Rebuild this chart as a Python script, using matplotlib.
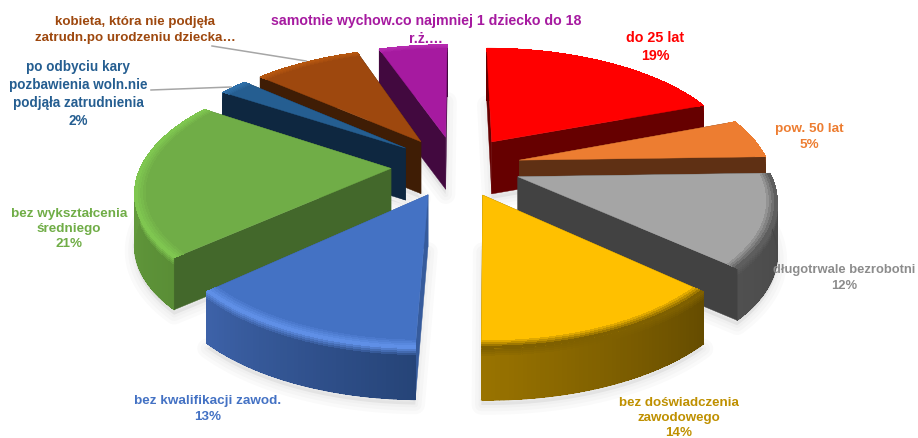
import numpy as np
import matplotlib
matplotlib.use('Agg')
import matplotlib.pyplot as plt
from matplotlib.collections import PolyCollection
from matplotlib.colors import to_rgb

plt.rcParams['font.family'] = ['Liberation Sans', 'DejaVu Sans']

# Data, clockwise from 12 o'clock. Shares, the labels are rounded
# (last two labels are cut off in the source, so those shares are only estimates)
labels = ['do 25 lat\n19%', 'pow. 50 lat\n5%', 'długotrwale bezrobotni\n12%',
          'bez doświadczenia\nzawodowego\n14%', 'bez kwalifikacji zawod.\n13%',
          'bez wykształcenia\nśredniego\n21%',
          'po odbyciu kary\npozbawienia woln.nie\npodjąła zatrudnienia\n2%',
          'kobieta, która nie podjęła\nzatrudn.po urodzeniu dziecka…',
          'samotnie wychow.co najmniej 1 dziecko do 18\nr.ż.…']
values = [19.3, 5.3, 12.3, 13.6, 12.9, 21.1, 2.2, 8.3, 5.3]

top_colors = ['#FF0000', '#ED7D31', '#A5A5A5', '#FFC000', '#4472C4',
              '#70AD47', '#255E91', '#9E480E', '#A61AA0']
wall_colors = ['#660000', '#5F3014', '#424242', '#7F6000', '#365B9C',
               '#43682B', '#0E2740', '#3F1D05', '#42093F']
# outer wall gradient, first colour at the start of the slice
arc_colors = [('#660000', '#660000'), ('#5F3014', '#5F3014'), ('#464646', '#505050'),
              ('#654C00', '#997300'), ('#264478', '#3D62A8'), ('#5A8E36', '#6AA542'),
              ('#0E2740', '#0E2740'), ('#3F1D05', '#3F1D05'), ('#42093F', '#42093F')]
rim_colors = ['#FF0000', '#ED7D31', '#5E5E5E', '#7F6000', '#5F8FE6',
              '#7FC650', '#2F6FA8', '#B5560F', '#B52AAF']
text_colors = ['#FF0000', '#ED7D31', '#8C8C8C', '#BF9000', '#4472C4',
               '#70AD47', '#255E91', '#9E480E', '#A61AA0']
label_pos = [(655, 47), (809, 137), (844, 278), (679, 418), (208, 409),
             (69, 229), (78, 94), (135, 30), (426, 30)]
label_size = [10.3, 9.7, 9.4, 9.65, 9.7, 9.7, 9.75, 9.65, 10.2]

# projection of the pie plane to the picture
CX, CY = 456, 166
BX, AY, PERSP = 250, 116.7, 0.166
EXPLODE = 0.26
DEPTH = 52


def project(u, v):
    s = 1 / (1 + PERSP * np.asarray(v))
    return CX + BX * np.asarray(u) * s, CY - AY * np.asarray(v) * s


def lerp(c1, c2, t):
    return np.array(to_rgb(c1)) * (1 - t) + np.array(to_rgb(c2)) * t


fig = plt.figure(figsize=(9.18, 4.38), dpi=100)
ax = fig.add_axes([0, 0, 1, 1])
ax.set_xlim(0, 918)
ax.set_ylim(438, 0)
ax.axis('off')

edges = np.concatenate([[0], np.cumsum(values)]) / np.sum(values) * 2 * np.pi

slices = []
for i in range(len(values)):
    mid = (edges[i] + edges[i + 1]) / 2
    au, av = EXPLODE * np.sin(mid), EXPLODE * np.cos(mid)
    ang = np.linspace(edges[i], edges[i + 1], 60)
    slices.append((i, au, av, ang))

# soft shadow under everything
for i, au, av, ang in slices:
    x, y = project(au + np.sin(ang), av + np.cos(ang))
    ax_, ay_ = project(au, av)
    px = np.concatenate([[ax_], x])
    py = np.concatenate([[ay_], y]) + DEPTH + 5
    for lw in (14, 9, 4):
        ax.fill(px, py, facecolor='none', edgecolor='k', alpha=0.02, lw=lw,
                joinstyle='round', zorder=1)
    ax.fill(px, py, color='k', alpha=0.05, lw=0, zorder=1)

# far slices first, so the near ones cover their walls
order = sorted(slices, key=lambda s: project(s[1], s[2])[1])
z = 2
for i, au, av, ang in order:
    x, y = project(au + np.sin(ang), av + np.cos(ang))
    x0, y0 = project(au, av)

    walls = []
    for xe, ye in ((x[0], y[0]), (x[-1], y[-1])):
        poly = [(x0, y0), (xe, ye), (xe, ye + DEPTH), (x0, y0 + DEPTH)]
        walls.append(((y0 + ye) / 2, 'radial', poly))
    walls.append((y.mean(), 'arc', None))
    walls.sort(key=lambda w: w[0])

    for _, kind, poly in walls:
        if kind == 'radial':
            ax.fill(*zip(*poly), color=wall_colors[i], lw=0.3, zorder=z)
        else:
            polys, cols = [], []
            bands = [0, 2, 4, 6, 8, DEPTH]
            for k in range(len(x) - 1):
                wall_c = lerp(arc_colors[i][0], arc_colors[i][1], k / (len(x) - 2))
                for b in range(len(bands) - 1):
                    z1, z2 = bands[b], bands[b + 1]
                    polys.append([(x[k], y[k] + z1), (x[k + 1], y[k + 1] + z1),
                                  (x[k + 1], y[k + 1] + z2), (x[k], y[k] + z2)])
                    cols.append(lerp(rim_colors[i], wall_c, min(z1 / 8, 1)))
            # no antialiasing between the quads, it gives stripes
            ax.add_collection(PolyCollection(polys, facecolors=cols, edgecolors='none',
                                             antialiaseds=False, zorder=z))
            # smooth lower edge
            for k in range(len(x) - 1):
                wall_c = lerp(arc_colors[i][0], arc_colors[i][1], k / (len(x) - 2))
                ax.plot(x[k:k + 2], y[k:k + 2] + DEPTH, color=wall_c, lw=0.8,
                        solid_capstyle='round', zorder=z)
        z += 1

    # top face
    ax.fill(np.concatenate([[x0], x]), np.concatenate([[y0], y]),
            color=top_colors[i], lw=0.3, zorder=z)
    z += 1

    # bevel along the outer edge
    polys, cols = [], []
    radii = [0.96, 0.97, 0.98, 0.99, 1.0]
    for b in range(len(radii) - 1):
        r1, r2 = radii[b], radii[b + 1]
        x1, y1 = project(au + r1 * np.sin(ang), av + r1 * np.cos(ang))
        x2, y2 = project(au + r2 * np.sin(ang), av + r2 * np.cos(ang))
        for k in range(len(x) - 1):
            polys.append([(x1[k], y1[k]), (x1[k + 1], y1[k + 1]),
                          (x2[k + 1], y2[k + 1]), (x2[k], y2[k])])
            cols.append(lerp(top_colors[i], rim_colors[i], (b + 1) / 4))
    ax.add_collection(PolyCollection(polys, facecolors=cols, edgecolors='none',
                                     antialiaseds=False, zorder=z))
    z += 1

# leader lines
ax.plot([212, 306], [46, 61], color='#A6A6A6', lw=1.1, zorder=z)
ax.plot([151, 231], [90, 87], color='#A6A6A6', lw=1.1, zorder=z)

for txt, pos, col, size in zip(labels, label_pos, text_colors, label_size):
    ax.text(pos[0], pos[1], txt, color=col, fontsize=size, fontweight='bold',
            ha='center', va='center', linespacing=1.36, zorder=z + 1)

fig.savefig('out.png', dpi=100)
